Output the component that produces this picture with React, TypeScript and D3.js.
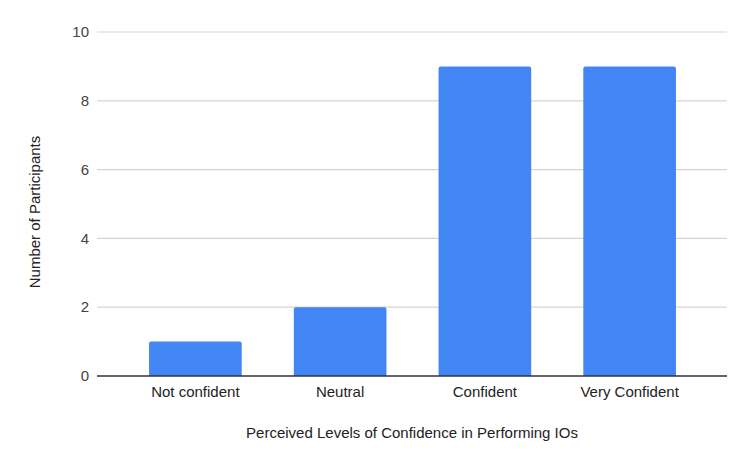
import React from "react";
import * as d3 from "d3";

const categories = ["Not confident", "Neutral", "Confident", "Very Confident"];
const values = [1, 2, 9, 9];
const yTicks = [0, 2, 4, 6, 8, 10];
const xTitle = "Perceived Levels of Confidence in Performing IOs";
const yTitle = "Number of Participants";

export default function App() {
  const W = 750, H = 464;
  const gridLeft = 97, gridRight = 727;
  const y = d3.scaleLinear().domain([0, 10]).range([376, 32]);
  const x = d3.scaleBand<string>().domain(categories).range([123, 702]).paddingInner(0.36).paddingOuter(0.18);
  const font = "'Liberation Sans', Arial, sans-serif";
  const fs = 15;
  return (
    <svg width={W} height={H} style={{ position: "absolute", left: 0, top: 0, background: "#fff" }}>
      <rect width={W} height={H} fill="#fff" />
      {yTicks.map((t) => (
        <g key={t}>
          {t !== 0 && (
            <line x1={gridLeft} x2={gridRight} y1={y(t)} y2={y(t)} stroke="#d4d4d4" strokeWidth={1.2} />
          )}
          <text x={89} y={y(t)} dy="0.35em" textAnchor="end" fontFamily={font} fontSize={fs} fill="#444">
            {t}
          </text>
        </g>
      ))}
      {categories.map((c, i) => (
        <path
          key={c}
          d={`M${x(c)!},${y(0)} V${y(values[i]) + 2} q0,-2 2,-2 H${x(c)! + x.bandwidth() - 2} q2,0 2,2 V${y(0)} Z`}
          fill="#4285f4"
        />
      ))}
      <line x1={gridLeft} x2={gridRight} y1={y(0)} y2={y(0)} stroke="#333" strokeWidth={1.3} />
      {categories.map((c) => (
        <text key={c} x={x(c)! + x.bandwidth() / 2} y={392} dy="0.35em" textAnchor="middle" fontFamily={font} fontSize={fs} fill="#222">
          {c}
        </text>
      ))}
      <text x={412} y={433} dy="0.35em" textAnchor="middle" fontFamily={font} fontSize={fs} fill="#222">
        {xTitle}
      </text>
      <text transform={`translate(35,212) rotate(-90)`} dy="0.35em" textAnchor="middle" fontFamily={font} fontSize={fs} fill="#222">
        {yTitle}
      </text>
    </svg>
  );
}
